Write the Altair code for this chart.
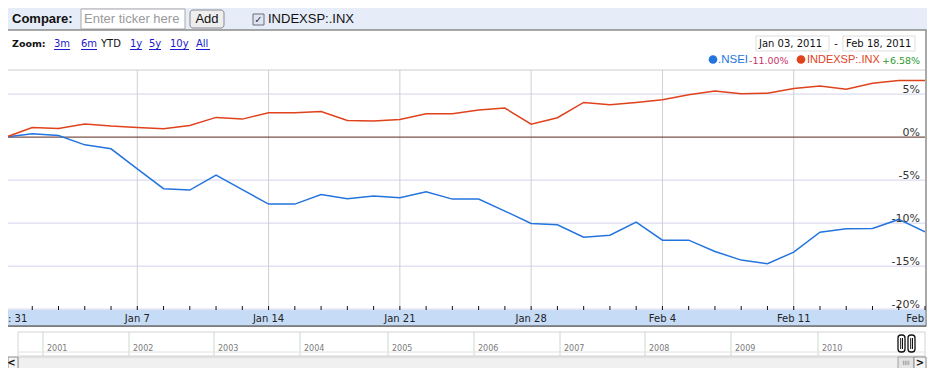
import altair as alt
import pandas as pd

# ---------------- data ----------------
days = ["Dec 31", "Jan 3", "Jan 4", "Jan 5", "Jan 6", "Jan 7",
        "Jan 10", "Jan 11", "Jan 12", "Jan 13", "Jan 14",
        "Jan 17", "Jan 18", "Jan 19", "Jan 20", "Jan 21",
        "Jan 24", "Jan 25", "Jan 26", "Jan 27", "Jan 28",
        "Jan 31", "Feb 1", "Feb 2", "Feb 3", "Feb 4",
        "Feb 7", "Feb 8", "Feb 9", "Feb 10", "Feb 11",
        "Feb 14", "Feb 15", "Feb 16", "Feb 17", "Feb 18"]
nsei = [0.0, 0.38, 0.19, -0.90, -1.36, -3.70,
        -6.00, -6.16, -4.42, -6.10, -7.79,
        -7.79, -6.67, -7.17, -6.86, -7.06,
        -6.36, -7.21, -7.21, -8.60, -10.04,
        -10.20, -11.63, -11.40, -9.88, -11.98,
        -11.98, -13.30, -14.30, -14.73, -13.37,
        -11.05, -10.66, -10.62, -9.57, -11.00]
spx = [0.0, 1.12, 1.00, 1.51, 1.28, 1.12,
       0.97, 1.36, 2.29, 2.09, 2.83,
       2.83, 2.98, 1.94, 1.86, 2.05,
       2.71, 2.71, 3.14, 3.37, 1.51,
       2.25, 4.03, 3.76, 4.03, 4.34,
       4.92, 5.35, 5.03, 5.10, 5.64,
       5.95, 5.56, 6.26, 6.57, 6.58]
series_names = [".NSEI", "INDEXSP:.INX"]
series_colors = ["#2474de", "#e0421c"]
y_ticks = [5, 0, -5, -10, -15, -20]
y_tick_labels = ["5%", "0%", "-5%", "-10%", "-15%", "-20%"]
x_tick_pos = [5, 10, 15, 20, 25, 30]
x_tick_labels = ["Jan 7", "Jan 14", "Jan 21", "Jan 28", "Feb 4", "Feb 11"]
years = ["2001", "2002", "2003", "2004", "2005", "2006", "2007", "2008", "2009", "2010"]

rows = []
for i, d in enumerate(days):
    rows.append({"i": i, "day": d, "series": series_names[0], "v": nsei[i]})
    rows.append({"i": i, "day": d, "series": series_names[1], "v": spx[i]})
df = pd.DataFrame(rows)

# ---------------- scales ----------------
OX, OY = 8, 70  # page position of the plot area's top-left
xs = alt.Scale(domain=[0.076, 35], nice=False, zero=False)
ys = alt.Scale(domain=[-20.1, 7.8], nice=False, zero=False)
one = alt.Data(values=[{"a": 1}])

VER = "DejaVu Sans"
ARI = "Liberation Sans"


def txt(x, y, s, size=11, color="#000", font=VER, weight="normal", align="left", baseline="middle"):
    return alt.Chart(one).mark_text(text=s, fontSize=size, color=color, font=font,
                                    fontWeight=weight, align=align, baseline=baseline).encode(
        x=alt.value(x - OX), y=alt.value(y - OY))


def box(x1, y1, x2, y2, fill, stroke=None, sw=1, r=0):
    kw = dict(fill=fill, cornerRadius=r)
    if stroke:
        kw.update(stroke=stroke, strokeWidth=sw)
    return alt.Chart(one).mark_rect(**kw).encode(
        x=alt.value(x1 - OX), x2=alt.value(x2 - OX), y=alt.value(y1 - OY), y2=alt.value(y2 - OY))


def hline(x1, x2, y, color, sw=1):
    return alt.Chart(one).mark_rule(color=color, strokeWidth=sw).encode(
        x=alt.value(x1 - OX), x2=alt.value(x2 - OX), y=alt.value(y - OY))


def vline(x, y1, y2, color, sw=1):
    return alt.Chart(one).mark_rule(color=color, strokeWidth=sw).encode(
        x=alt.value(x - OX), y=alt.value(y1 - OY), y2=alt.value(y2 - OY))


layers = []
# header bar
layers.append(box(0, 0, 935, 30, "#e6ecf8"))
layers.append(txt(12, 19, "Compare:", 13, "#111", ARI, "bold"))
layers.append(box(81, 9, 185, 29, "#ffffff", "#a8a8a8"))
layers.append(txt(84, 19, "Enter ticker here", 13, "#9a9a9a", ARI))
layers.append(box(190, 10, 224, 28, "#eeeeee", "#8a8a8a", 1, 3))
layers.append(txt(207, 19, "Add", 13, "#111", ARI, align="center"))
layers.append(box(253, 14, 264, 25, "#dfe4f2", "#6a6f80"))
layers.append(txt(258.5, 20, "✓", 10, "#334", VER, "bold", align="center"))
layers.append(txt(268, 19, "INDEXSP:.INX", 13, "#111", ARI))

# chart panel
layers.append(box(0, 30, 926, 326, "#ffffff", "#8c8c8c", 1.5))
# zoom row
layers.append(txt(12, 44, "Zoom:", 9.5, "#111", VER, "bold"))
for (lx, lw, s) in [(54, 16, "3m"), (81, 16, "6m"), (130, 12, "1y"), (149, 12, "5y"), (170, 19, "10y"), (196, 14, "All")]:
    layers.append(txt(lx, 44, s, 10, "#1a1acc", VER))
    layers.append(hline(lx, lx + lw, 49.5, "#1a1acc", 1))
layers.append(txt(101, 44, "YTD", 10, "#111", VER))
# date boxes
layers.append(box(756, 36, 829, 51, "#ffffff", "#dddddd"))
layers.append(txt(759, 43.5, "Jan 03, 2011", 10, "#111", VER))
layers.append(txt(836, 43.5, "-", 10, "#111", VER, align="center"))
layers.append(box(843, 36, 915, 51, "#ffffff", "#dddddd"))
layers.append(txt(846, 43.5, "Feb 18, 2011", 10, "#111", VER))
# legend
layers.append(alt.Chart(one).mark_point(filled=True, shape="circle", size=75, opacity=1,
                                        color=series_colors[0]).encode(
    x=alt.value(713 - OX), y=alt.value(59.5 - OY)))
layers.append(txt(718, 60, ".NSEI", 11.5, series_colors[0], ARI))
layers.append(txt(749, 60.5, "-11.00%", 9.5, "#c8336a", VER))
layers.append(alt.Chart(one).mark_point(filled=True, shape="circle", size=75, opacity=1,
                                        color=series_colors[1]).encode(
    x=alt.value(801 - OX), y=alt.value(59.5 - OY)))
layers.append(txt(807, 60, "INDEXSP:.INX", 11, series_colors[1], ARI))
layers.append(txt(882, 60.5, "+6.58%", 9.5, "#2e9a2e", VER))

# plot top border
layers.append(hline(OX, 925, 70, "#cccccc", 1))

# grid
grid_df = pd.DataFrame({"v": [t for t in y_ticks if t != 0]})
layers.append(alt.Chart(grid_df).mark_rule(color="#d2d2ec", strokeWidth=1).encode(
    y=alt.Y("v:Q", scale=ys, axis=None)))
vg_df = pd.DataFrame({"i": x_tick_pos})
layers.append(alt.Chart(vg_df).mark_rule(color="#cfcfcf", strokeWidth=1).encode(
    x=alt.X("i:Q", scale=xs, axis=None)))
layers.append(alt.Chart(pd.DataFrame({"v": [0]})).mark_rule(color="#7a5048", strokeWidth=1.2).encode(
    y=alt.Y("v:Q", scale=ys, axis=None)))

# series lines
layers.append(alt.Chart(df).mark_line(strokeWidth=1.5, clip=True).encode(
    x=alt.X("i:Q", scale=xs, axis=None),
    y=alt.Y("v:Q", scale=ys, axis=None),
    color=alt.Color("series:N", scale=alt.Scale(domain=series_names, range=series_colors), legend=None),
    detail="series:N"))

# y labels
yl_df = pd.DataFrame({"v": y_ticks, "lab": y_tick_labels})
layers.append(alt.Chart(yl_df).mark_text(align="right", baseline="alphabetic", dy=-1, fontSize=11,
                                         font=VER, color="#333333").encode(
    y=alt.Y("v:Q", scale=ys, axis=None), x=alt.value(920 - OX), text="lab:N"))

# x axis band
layers.append(box(OX, 310, 925, 326, "#c6dbf5"))
layers.append(hline(0, 926, 326, "#707070", 1.5))
tk_df = pd.DataFrame({"i": list(range(len(days)))})
layers.append(alt.Chart(tk_df).mark_rule(color="#111111", strokeWidth=1).encode(
    x=alt.X("i:Q", scale=xs, axis=None), y=alt.value(306 - OY), y2=alt.value(310 - OY)))
xl_df = pd.DataFrame({"i": x_tick_pos, "lab": x_tick_labels})
layers.append(alt.Chart(xl_df).mark_text(align="center", baseline="middle", fontSize=10,
                                         font=VER, color="#222222").encode(
    x=alt.X("i:Q", scale=xs, axis=None), y=alt.value(318.5 - OY), text="lab:N"))
layers.append(txt(8, 318.5, ": 31", 10, "#222", VER))
layers.append(txt(924, 318.5, "Feb", 10, "#222", VER, align="right"))

# navigator
layers.append(box(18, 332, 925, 356, "#ffffff", "#d4d4d4"))
year_x = [43, 129, 214, 300, 388, 474, 560, 645, 731, 818]
for yx, yr in zip(year_x, years):
    layers.append(vline(yx, 332, 356, "#c9dcc9", 1))
    layers.append(txt(yx + 4, 349, yr, 8, "#7a7a7a", VER))
# faint navigator trace
layers.append(hline(18, 925, 352, "#e2e2e2", 1))
# scrollbar
layers.append(box(18, 357, 917, 370, "#f0f0f0", "#d0d0d0"))
layers.append(box(8, 357, 18, 369, "#f4f4f4", "#888888"))
layers.append(txt(11.5, 363, "<", 10, "#111", VER, "bold", align="center"))
layers.append(box(898, 357, 914, 369, "#e4e4e4", "#a0a0a0"))
layers.append(txt(906, 363, "IIII", 6, "#777", VER, align="center"))
layers.append(box(914, 357, 926, 369, "#f4f4f4", "#888888"))
layers.append(txt(920, 363, ">", 10, "#111", VER, "bold", align="center"))
# range handles
for hx in [898, 908]:
    layers.append(box(hx, 335, hx + 7, 352, "#ffffff", "#111111", 1.3, 3))
    layers.append(vline(hx + 2.7, 338, 349, "#111111", 1))
    layers.append(vline(hx + 4.5, 338, 349, "#111111", 1))

chart = alt.layer(*layers).properties(
    width=917, height=240,
    padding={"left": 0, "top": 62, "right": 2, "bottom": 58},
    autosize=alt.AutoSizeParams(type="none"),
).configure_view(stroke=None)

chart.save("out.html", embed_options={"renderer": "svg", "actions": False})
